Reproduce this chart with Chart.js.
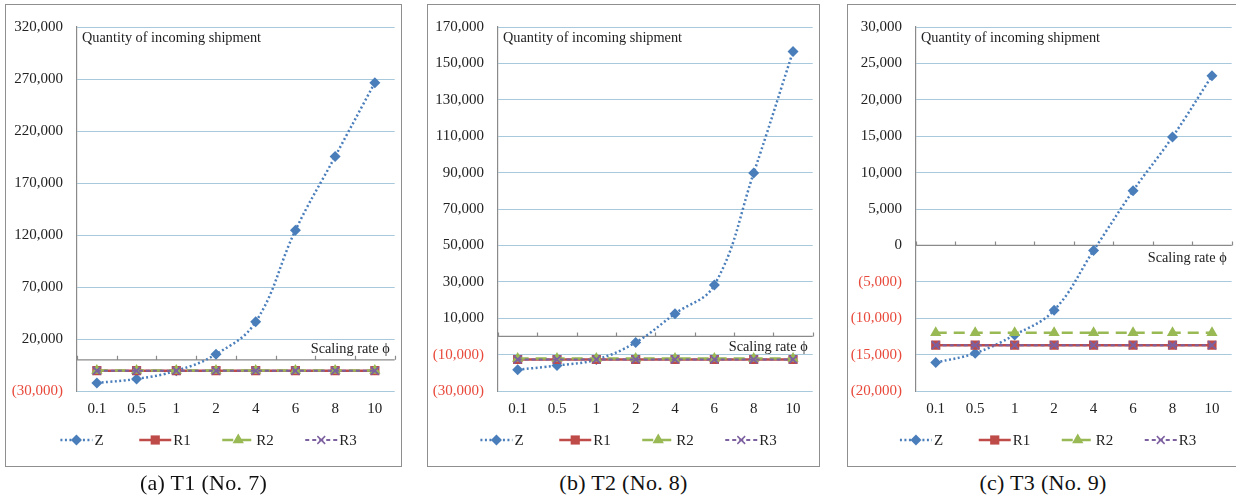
<!DOCTYPE html>
<html>
<head>
<meta charset="utf-8">
<script src="https://cdn.jsdelivr.net/npm/chart.js@4.4.1/dist/chart.umd.min.js"></script>
<style>
    body { margin: 0; background: #fff; width: 1236px; height: 501px; overflow: hidden; position: relative; font-family: "Liberation Serif", serif; }
    .panel { position: absolute; }
    .panel canvas { position: absolute; left: 0; top: 0; }
    .frame { position: absolute; left: 0; top: 0; right: 0; bottom: 0; border: 1.5px solid #8f8f8f; box-sizing: border-box; pointer-events: none; }
    .caption { position: absolute; text-align: center; font-size: 22px; line-height: 26px; color: #111; letter-spacing: 0.3px; }
</style>
</head>
<body>
<div class="panel" id="panel-a"><canvas id="chart-a"></canvas><div class="frame"></div></div>
<div class="panel" id="panel-b"><canvas id="chart-b"></canvas><div class="frame"></div></div>
<div class="panel" id="panel-c"><canvas id="chart-c"></canvas><div class="frame"></div></div>
<div class="caption" id="cap-a"></div>
<div class="caption" id="cap-b"></div>
<div class="caption" id="cap-c"></div>

<script>
// scaling rate phi on the x axis
const categories = ["0.1", "0.5", "1", "2", "4", "6", "8", "10"];

// T1 (No. 7)
const zT1  = [-22200, -18400, -10500, 5400, 36500, 124500, 195500, 266500];
const r1T1 = [-10500, -10500, -10500, -10500, -10500, -10500, -10500, -10500];
const r2T1 = [-10200, -10200, -10200, -10200, -10200, -10200, -10200, -10200];
const r3T1 = [-10500, -10500, -10500, -10500, -10500, -10500, -10500, -10500];

// T2 (No. 8)
const zT2  = [-18300, -16000, -12700, -3300, 12500, 28200, 89800, 156600];
const r1T2 = [-12700, -12700, -12700, -12700, -12700, -12700, -12700, -12700];
const r2T2 = [-12200, -12200, -12200, -12200, -12200, -12200, -12200, -12200];
const r3T2 = [-12700, -12700, -12700, -12700, -12700, -12700, -12700, -12700];

// T3 (No. 9)
const zT3  = [-16100, -14800, -12300, -8900, -700, 7500, 14900, 23300];
const r1T3 = [-13700, -13700, -13700, -13700, -13700, -13700, -13700, -13700];
const r2T3 = [-12000, -12000, -12000, -12000, -12000, -12000, -12000, -12000];
const r3T3 = [-13700, -13700, -13700, -13700, -13700, -13700, -13700, -13700];

const FONT = "'Liberation Serif', 'Times New Roman', serif";
const TEXT = "#222";
const NEG = "#e8493b";
const GRID = "#a8c8dc";
const AXIS = "#8a8a8a";

const Z_COLOR = "#4a7ebb";
const R1_COLOR = "#be4b48";
const R2_COLOR = "#98b954";
const R3_COLOR = "#7d60a0";

const panels = [
    {
        key: "a", caption: "(a) T1 (No. 7)",
        frame: { left: 5, top: 4, width: 397, height: 463 },
        plot: { left: 77, top: 23, right: 400, bottom: 391 },
        yMin: -30000, yMax: 320000, yStep: 50000,
        z: zT1, r1: r1T1, r2: r2T1, r3: r3T1,
        axisTitleDy: -11
    },
    {
        key: "b", caption: "(b) T2 (No. 8)",
        frame: { left: 427, top: 4, width: 393, height: 463 },
        plot: { left: 498, top: 23, right: 818, bottom: 391 },
        yMin: -30000, yMax: 170000, yStep: 20000,
        z: zT2, r1: r1T2, r2: r2T2, r3: r3T2,
        axisTitleDy: 11
    },
    {
        key: "c", caption: "(c) T3 (No. 9)",
        frame: { left: 847, top: 4, width: 392, height: 463 },
        plot: { left: 916, top: 23, right: 1237, bottom: 391 },
        yMin: -20000, yMax: 30000, yStep: 5000,
        z: zT3, r1: r1T3, r2: r2T3, r3: r3T3,
        axisTitleDy: 13
    }
];

function fmt(v) {
    const s = Math.abs(v).toLocaleString("en-US");
    return v < 0 ? "(" + s + ")" : s;
}

// marker shapes for the hand-drawn legend
function drawMarker(ctx, style, x, y, r, color) {
    ctx.save();
    ctx.setLineDash([]);
    ctx.fillStyle = color;
    ctx.strokeStyle = color;
    ctx.beginPath();
    if (style === "rectRot") {
        ctx.moveTo(x, y - r); ctx.lineTo(x + r, y); ctx.lineTo(x, y + r); ctx.lineTo(x - r, y);
        ctx.closePath(); ctx.fill();
    } else if (style === "rect") {
        const h = r * Math.SQRT1_2;
        ctx.rect(x - h, y - h, 2 * h, 2 * h); ctx.fill();
    } else if (style === "triangle") {
        ctx.moveTo(x, y - r); ctx.lineTo(x + r * 0.87, y + r * 0.5); ctx.lineTo(x - r * 0.87, y + r * 0.5);
        ctx.closePath(); ctx.fill();
    } else if (style === "crossRot") {
        const h = r * Math.SQRT1_2;
        ctx.lineWidth = 1.5;
        ctx.moveTo(x - h, y - h); ctx.lineTo(x + h, y + h);
        ctx.moveTo(x + h, y - h); ctx.lineTo(x - h, y + h);
        ctx.stroke();
    }
    ctx.restore();
}

const overlay = {
    id: "overlay",
    beforeDatasetsDraw(chart, args, opts) {
        const { ctx, chartArea: a, scales: { x, y } } = chart;
        const y0 = y.getPixelForValue(0);
        const half = (x.getPixelForValue(1) - x.getPixelForValue(0)) / 2;
        ctx.save();
        ctx.strokeStyle = AXIS;
        ctx.lineWidth = 1.2;
        ctx.beginPath();
        ctx.moveTo(a.left, y0);
        ctx.lineTo(a.right, y0);
        for (let i = 0; i <= categories.length; i++) {
            const bx = Math.round(x.getPixelForValue(i) - half) + 0.5;
            ctx.moveTo(bx, y0);
            ctx.lineTo(bx, y0 - 4);
        }
        ctx.stroke();
        ctx.restore();
    },
    afterDraw(chart, args, opts) {
        const { ctx, chartArea: a, scales: { y } } = chart;
        ctx.save();
        ctx.fillStyle = TEXT;
        ctx.font = "14.3px " + FONT;
        ctx.textBaseline = "middle";
        ctx.textAlign = "left";
        ctx.fillText("Quantity of incoming shipment", a.left + 5, a.top + 11);
        ctx.textAlign = "right";
        ctx.fillText("Scaling rate \u03D5", a.right - 5, y.getPixelForValue(0) + opts.axisTitleDy);

        // legend: line sample with marker, then the series name
        ctx.font = "15px " + FONT;
        ctx.textAlign = "left";
        const cell = 83;
        const lineLen = 32;
        chart.data.datasets.forEach((ds, i) => {
            const cx = chart.width / 2 + 3 + (i - 1.5) * cell;
            const tw = ctx.measureText(ds.label).width;
            const w = lineLen + 2 + tw;
            const sx = cx - w / 2;
            const ly = opts.legendY;
            ctx.save();
            ctx.strokeStyle = ds.borderColor;
            ctx.lineWidth = ds.borderWidth;
            ctx.setLineDash(ds.borderDash || []);
            ctx.beginPath();
            ctx.moveTo(sx, ly);
            ctx.lineTo(sx + lineLen, ly);
            ctx.stroke();
            ctx.restore();
            drawMarker(ctx, ds.pointStyle, sx + lineLen / 2, ly, ds.pointRadius, ds.borderColor);
            ctx.fillStyle = TEXT;
            ctx.fillText(ds.label, sx + lineLen + 2, ly + 1);
        });
        ctx.restore();
    }
};

panels.forEach(p => {
    const wrap = document.getElementById("panel-" + p.key);
    wrap.style.left = p.frame.left + "px";
    wrap.style.top = p.frame.top + "px";
    wrap.style.width = p.frame.width + "px";
    wrap.style.height = p.frame.height + "px";

    const cap = document.getElementById("cap-" + p.key);
    cap.textContent = p.caption;
    cap.style.left = p.frame.left + "px";
    cap.style.width = p.frame.width + "px";
    cap.style.top = "470px";

    const canvas = document.getElementById("chart-" + p.key);
    canvas.width = p.frame.width;
    canvas.height = p.frame.height;

    new Chart(canvas.getContext("2d"), {
        type: "line",
        data: {
            labels: categories,
            datasets: [
                {
                    label: "Z", data: p.z,
                    borderColor: Z_COLOR, backgroundColor: Z_COLOR,
                    borderWidth: 2.5, borderDash: [2, 2.5], tension: 0.4,
                    pointStyle: "rectRot", pointRadius: 5.5, pointBorderWidth: 0, order: 4
                },
                {
                    label: "R1", data: p.r1,
                    borderColor: R1_COLOR, backgroundColor: R1_COLOR,
                    borderWidth: 2.5,
                    pointStyle: "rect", pointRadius: 6.5, pointBorderWidth: 0, order: 3
                },
                {
                    label: "R2", data: p.r2,
                    borderColor: R2_COLOR, backgroundColor: R2_COLOR,
                    borderWidth: 2.5, borderDash: [11, 7],
                    pointStyle: "triangle", pointRadius: 6.5, pointBorderWidth: 0, order: 2
                },
                {
                    label: "R3", data: p.r3,
                    borderColor: R3_COLOR, backgroundColor: R3_COLOR,
                    borderWidth: 2, borderDash: [4, 3],
                    pointStyle: "crossRot", pointRadius: 5.5, pointBorderWidth: 1.8, order: 1
                }
            ]
        },
        options: {
            responsive: false,
            animation: false,
            layout: {
                padding: {
                    left: 0,
                    top: p.plot.top - p.frame.top,
                    right: p.frame.left + p.frame.width - p.plot.right,
                    bottom: p.frame.top + p.frame.height - p.plot.bottom - 30
                }
            },
            plugins: {
                legend: { display: false },
                tooltip: { enabled: false },
                overlay: { axisTitleDy: p.axisTitleDy, legendY: 440 - p.frame.top }
            },
            scales: {
                x: {
                    offset: true,
                    grid: { display: false, drawTicks: false },
                    border: { display: false },
                    ticks: { font: { family: FONT, size: 15 }, color: TEXT, padding: 9, maxRotation: 0 },
                    afterFit: s => { s.height = 30; }
                },
                y: {
                    min: p.yMin, max: p.yMax,
                    grid: { color: GRID, drawTicks: false, lineWidth: 1 },
                    border: { display: true, color: AXIS, width: 1.2 },
                    ticks: {
                        stepSize: p.yStep,
                        font: { family: FONT, size: 15 },
                        color: c => c.tick.value < 0 ? NEG : TEXT,
                        padding: 14,
                        callback: v => fmt(v)
                    },
                    afterFit: s => { s.width = p.plot.left - p.frame.left; }
                }
            }
        },
        plugins: [overlay]
    });
});
</script>
</body>
</html>
